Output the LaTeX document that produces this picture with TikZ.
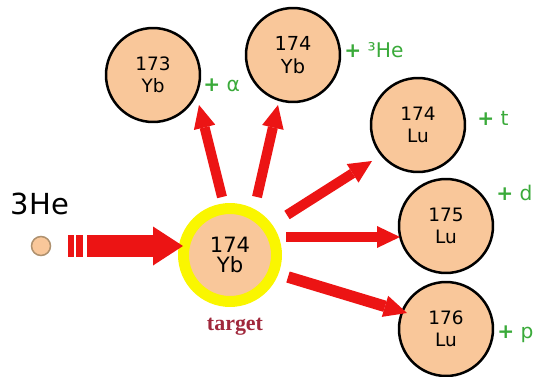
\documentclass[tikz,border=0pt]{standalone}
\usepackage{fontspec}
\setmainfont{DejaVu Sans}
\newfontfamily\tgtfont{Liberation Serif}
\usetikzlibrary{arrows.meta}

\definecolor{nucfill}{RGB}{249,199,154}
\definecolor{beamred}{RGB}{236,20,20}
\definecolor{chanlabel}{RGB}{58,170,58}
\definecolor{tgtring}{RGB}{250,246,0}
\definecolor{tgtlabel}{RGB}{160,40,60}
\definecolor{dotedge}{RGB}{175,145,110}

\newcommand{\chplus}{\textbf{+}}

\tikzset{
  nucleus/.style={circle, draw=black, line width=0.05cm, fill=nucfill,
    minimum size=1.88cm, inner sep=0pt, align=center,
    font=\fontsize{10.5}{12.5}\selectfont},
  channel/.style={text=chanlabel, inner sep=0pt, anchor=base west,
    font=\fontsize{11.5}{13}\selectfont},
  beam/.style={beamred, line width=0.2cm,
    -{Triangle[width=0.44cm, length=0.46cm, line width=0pt]}},
}

\begin{document}
\begin{tikzpicture}[x=0.02cm, y=-0.02cm]
    \useasboundingbox (0,0) rectangle (535,376);

    % incoming projectile
    \node[circle, draw=dotedge, line width=0.03cm, fill=nucfill,
          minimum size=0.38cm, inner sep=0pt] (he3) at (41,246) {};
    \node[font=\fontsize{16.5}{18}\selectfont] (helbl) at (40,204) {3He};

    % beam arrow with two tail stripes
    \fill[beamred] (68,235) rectangle (74,257);
    \fill[beamred] (76,235) rectangle (83,257);
    \coordinate (beamtail) at (87,246);
    \coordinate (beamtip)  at (183,246);

    % target nucleus
    \node[nucleus, draw=tgtring, line width=0.22cm, minimum size=1.86cm,
          font=\fontsize{12}{11.5}\selectfont] (tgt) at (230,255) {174\\Yb};
    \node[font=\tgtfont\bfseries\fontsize{12.5}{14}\selectfont, text=tgtlabel,
          anchor=base] (tgtlbl) at (235,330) {target};

    \draw[beamred, line width=0.44cm,
          -{Triangle[width=0.78cm, length=0.6cm, line width=0pt]}]
        (beamtail) -- (beamtip);

    % residual nuclei
    \node[nucleus] (yb173) at (153,75) {173\\Yb};
    \node[nucleus, font=\fontsize{11}{13}\selectfont] (yb174) at (293,55) {174\\Yb};
    \node[nucleus] (lu174) at (418,125) {174\\Lu};
    \node[nucleus] (lu175) at (446,226) {175\\Lu};
    \node[nucleus] (lu176) at (446,329) {176\\Lu};

    % outgoing light particles
    \node[channel] (lalpha) at (203,91)  {\chplus{} α};
    \node[channel] (lhe)    at (344,57)  {\chplus{} ³He};
    \node[channel] (lt)     at (477,125) {\chplus{} t};
    \node[channel] (ld)     at (496,200) {\chplus{} d};
    \node[channel] (lp)     at (497,338) {\chplus{} p};

    % reaction channels ; tails near the target, tips at the products
    \coordinate (alphas) at (222,197);  \coordinate (alphae) at (199,105);
    \coordinate (hes)    at (257,197);  \coordinate (hee)    at (278,105);
    \coordinate (ts)     at (287,215);  \coordinate (te)     at (372,161);
    \coordinate (ds)     at (286,237);  \coordinate (de)     at (400,237);
    \coordinate (ps)     at (288,277);  \coordinate (pe)     at (407,313);

    \draw[beam] (alphas) -- (alphae);
    \draw[beam] (hes) -- (hee);
    \draw[beam] (ts) -- (te);
    \draw[beam] (ds) -- (de);
    \draw[beam, line width=0.23cm] (ps) -- (pe);
\end{tikzpicture}
\end{document}
